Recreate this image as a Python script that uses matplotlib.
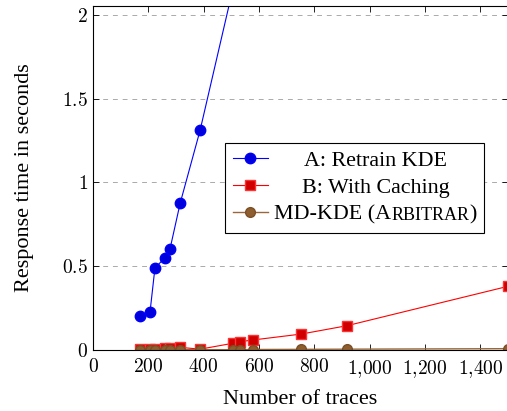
import matplotlib
matplotlib.use("Agg")
import matplotlib.pyplot as plt
from matplotlib.ticker import FuncFormatter
from matplotlib.offsetbox import TextArea, HPacker, DrawingArea

plt.rcParams['font.family'] = ['Liberation Serif', 'DejaVu Serif']
plt.rcParams['mathtext.fontset'] = 'cm'

# Données
traces = [170, 206, 224, 260, 278, 315, 387, 505, 532, 579, 752, 918, 1500]
retrain = [0.20, 0.225, 0.49, 0.55, 0.60, 0.875, 1.31, 2.15]
caching = [0.005, 0.007, 0.008, 0.012, 0.013, 0.016, 0.005, 0.04, 0.05, 0.06, 0.095, 0.145, 0.38]
mdkde = [0.002, 0.002, 0.002, 0.002, 0.002, 0.002, 0.002, 0.002, 0.002, 0.003, 0.004, 0.005, 0.008]

xticks = [0, 200, 400, 600, 800, 1000, 1200, 1400]
yticks = [0, 0.5, 1, 1.5, 2]

fs = 15.8

fig = plt.figure(figsize=(5.07, 4.11), dpi=100)
ax = fig.add_axes([0.1834, 0.1484, 0.8186, 0.8382])

ax.plot(traces[:len(retrain)], retrain, color='#0000ff', lw=0.8, marker='o', ms=7.5,
        markerfacecolor='#0000dd', markeredgecolor='#0000ff', label='A: Retrain KDE')
ax.plot(traces, caching, color='#ff0000', lw=0.8, marker='s', ms=6.5,
        markerfacecolor='#d00000', markeredgecolor='#ff3333', label='B: With Caching')
ax.plot(traces, mdkde, color='#99673a', lw=1.0, marker='o', ms=7,
        markerfacecolor='#8f5e2e', markeredgecolor='#7a4f26', label='MD-KDE (ARBITRAR)')

ax.set_xlim(0, 1500)
ax.set_ylim(0, 2.055)
ax.set_xticks(xticks)
ax.set_yticks(yticks)
ax.xaxis.set_major_formatter(FuncFormatter(lambda v, p: "$" + f"{int(v):,}".replace(",", "{,}") + "$"))
ax.yaxis.set_major_formatter(FuncFormatter(lambda v, p: f"${v:g}$"))
ax.tick_params(direction='in', labelsize=14, length=4, width=0.6, top=True, right=True)
ax.tick_params(axis='x', pad=6)
ax.grid(axis='y', linestyle=(0, (5, 5)), color='#aaaaaa', lw=0.7)
for s in ax.spines.values():
    s.set_linewidth(0.8)

ax.set_xlabel('Number of traces', fontsize=16, labelpad=7)
ax.set_ylabel('Response time in seconds', fontsize=16, labelpad=20)

leg = ax.legend(loc='upper left', bbox_to_anchor=(0.318, 0.601), fontsize=fs, fancybox=False,
                edgecolor='black', framealpha=1, handlelength=1.6, borderpad=0.35,
                labelspacing=0.3, handletextpad=0.3, borderaxespad=0)
leg.get_frame().set_linewidth(0.8)

# étiquettes centrées + petites capitales pour ARBITRAR
renderer = fig.canvas.get_renderer()
parts = [[('A: Retrain KDE', fs)],
         [('B: With Caching', fs)],
         [('MD-KDE (A', fs), ('RBITRAR', fs * 0.82), (')', fs)]]
boxes = []
widths = []
for row in parts:
    tas = [TextArea(t, textprops=dict(size=s)) for t, s in row]
    w = 0
    for t, s in row:
        tmp = fig.text(0, 0, t, size=s)
        w += tmp.get_window_extent(renderer).width
        tmp.remove()
    widths.append(w)
    boxes.append(tas)
maxw = max(widths)
rows = leg._legend_handle_box.get_children()[0].get_children()
for rowbox, tas, w in zip(rows, boxes, widths):
    pad = DrawingArea((maxw - w) / 2 * 72 / fig.dpi, 1)
    hp = HPacker(children=[pad] + tas, sep=0, pad=0, align='baseline')
    hp.set_figure(fig)
    rowbox._children[1] = hp

fig.savefig('out.png', dpi=100)
